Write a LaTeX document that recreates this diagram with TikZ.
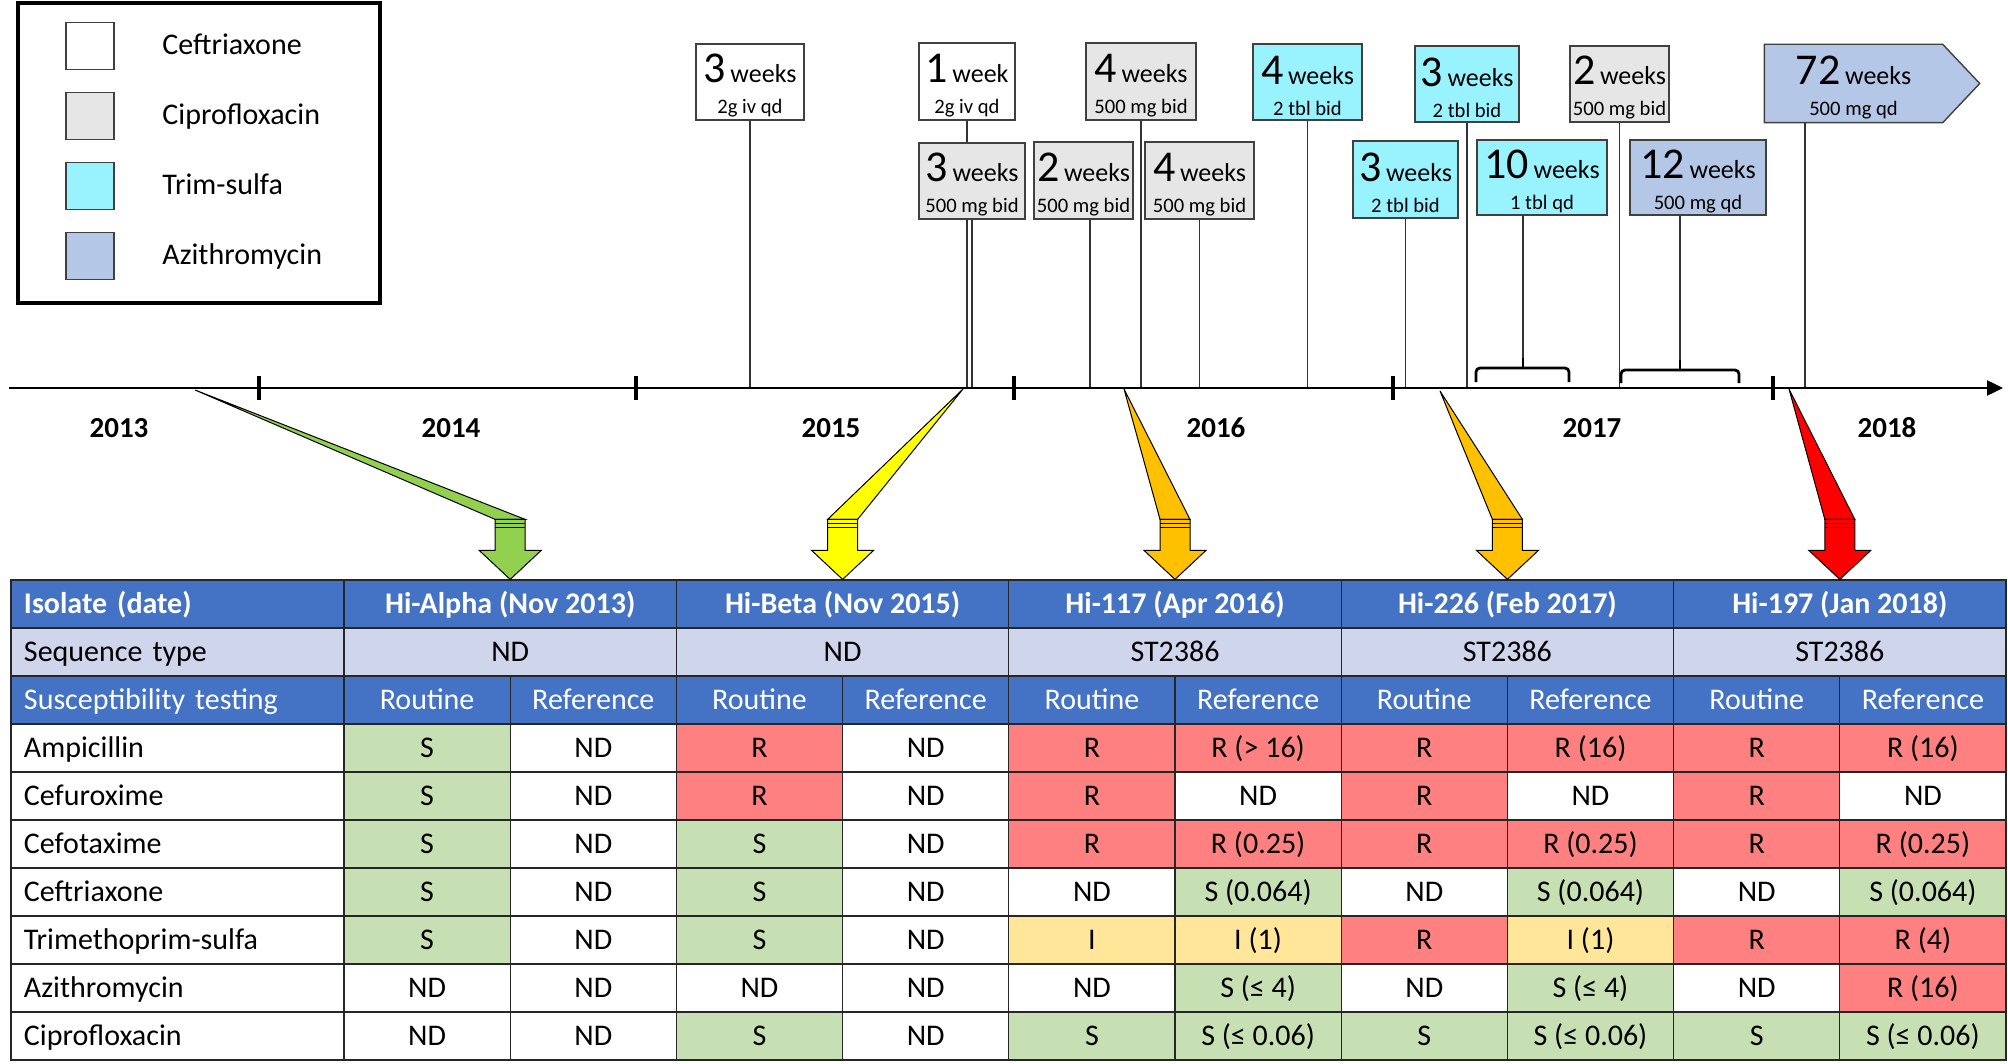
\documentclass[tikz,border=0pt]{standalone}
\usepackage{fontspec}
\setmainfont{Carlito}
\usetikzlibrary{arrows.meta}

\definecolor{hdrblue}{HTML}{4472C4}
\definecolor{seqgray}{HTML}{CFD5EA}
\definecolor{sus}{HTML}{C6E0B4}
\definecolor{res}{HTML}{FF8080}
\definecolor{itm}{HTML}{FFE699}
\colorlet{nd}{white}
\definecolor{ciprogray}{HTML}{E7E6E6}
\definecolor{trimcyan}{HTML}{99F3FF}
\definecolor{azithblue}{HTML}{B4C7E7}
\definecolor{arrgreen}{HTML}{92D050}
\definecolor{arryellow}{HTML}{FFFF00}
\definecolor{arrorange}{HTML}{FFC000}
\definecolor{arrred}{HTML}{FF0000}

\pgfdeclarelayer{background}
\pgfsetlayers{background,main}

% number, unit, dose
\newcommand{\regimen}[3]{\rule{0pt}{18pt}{\fontsize{22}{15.5}\selectfont #1} {\fontsize{13}{15.5}\selectfont #2}\\#3}

\begin{document}
\begin{tikzpicture}
	[x=0.5pt,y=-0.5pt,
	 boxline/.style={draw=black!75,line width=0.7pt},
	 dosebox/.style={boxline,align=center,inner sep=0pt,font=\fontsize{10.3}{15.5}\selectfont},
	 boxsize/.style 2 args={minimum width=#1*0.5pt,minimum height=#2*0.5pt},
	 legbox/.style={draw=black!75,line width=0.7pt,inner sep=0pt,minimum width=24pt,minimum height=23.5pt},
	 legtext/.style={anchor=west,inner sep=0pt,font=\fontsize{15}{18}\selectfont,text height=10pt,text depth=1pt},
	 axisline/.style={line width=1.2pt,-{Triangle[length=8pt,width=7.5pt]}},
	 yeartick/.style={line width=1.6pt},
	 year/.style={font=\fontsize{14.5}{17}\selectfont\bfseries},
	 stem/.style={line width=0.6pt,black!80},
	 bracket/.style={line width=1.4pt,rounded corners=2pt},
	 wedge/.style={draw=black,line width=0.5pt},
	 cellbase/.style={draw=black!85,line width=0.6pt,inner sep=0pt,minimum height=24pt,
	   font=\fontsize{15}{18}\selectfont,text height=10pt,text depth=1pt},
	 dcell/.style={cellbase,minimum width=83.1pt},
	 wcell/.style={cellbase,minimum width=166.2pt},
	 lcell/.style={cellbase,minimum width=166.5pt,text width=153.5pt,align=left,inner xsep=6.5pt}]
\useasboundingbox (0,0) rectangle (2008,1064);

% legend
\draw[line width=2pt] (18,3) rectangle (380,303);
\foreach \clr/\drug [count=\i] in {white/Ceftriaxone,ciprogray/Ciprofloxacin,trimcyan/Trim-sulfa,azithblue/Azithromycin}{
	\node[legbox,fill=\clr] (sw\i) at (90,-24+70*\i) {};
	\node[legtext] (lg\i) at (162,-24+70*\i) {\drug};
}

% time axis
\coordinate (ax0) at (9,388);
\coordinate (ax1) at (2003,388);
\draw[axisline] (ax0) -- (ax1);
\foreach \x in {259,636,1014,1393,1773}
\draw[yeartick] (\x,376) -- (\x,400);
\foreach \yr/\x in {2013/119,2014/451,2015/831,2016/1216,2017/1592,2018/1887}
\node[year] (y\yr) at (\x,428) {\yr};

% treatment courses
\node[dosebox,boxsize={108}{76},fill=white] (tA) at (750,82) {\regimen{3}{weeks}{2g iv qd}};
\node[dosebox,boxsize={96}{77},fill=white] (tB) at (967,81.5) {\regimen{1}{week}{2g iv qd}};
\node[dosebox,boxsize={106}{76},fill=ciprogray] (tC) at (972,181) {\regimen{3}{weeks}{500 mg bid}};
\node[dosebox,boxsize={99}{77},fill=ciprogray] (tD) at (1083.5,180.5) {\regimen{2}{weeks}{500 mg bid}};
\node[dosebox,boxsize={110}{77},fill=ciprogray] (tE) at (1141,81.5) {\regimen{4}{weeks}{500 mg bid}};
\node[dosebox,boxsize={109}{77},fill=ciprogray] (tF) at (1199.5,180.5) {\regimen{4}{weeks}{500 mg bid}};
\node[dosebox,boxsize={109}{76},fill=trimcyan] (tG) at (1307.5,82) {\regimen{4}{weeks}{2 tbl bid}};
\node[dosebox,boxsize={104}{76},fill=trimcyan] (tH) at (1467,84) {\regimen{3}{weeks}{2 tbl bid}};
\node[dosebox,boxsize={105}{77},fill=trimcyan] (tI) at (1405.5,179.5) {\regimen{3}{weeks}{2 tbl bid}};
\node[dosebox,boxsize={130}{75},fill=trimcyan] (tJ) at (1542,177.5) {\regimen{10}{weeks}{1 tbl qd}};
\node[dosebox,boxsize={99}{76},fill=ciprogray] (tK) at (1619.5,84) {\regimen{2}{weeks}{500 mg bid}};
\node[dosebox,boxsize={136}{75},fill=azithblue] (tL) at (1698,177.5) {\regimen{12}{weeks}{500 mg qd}};
\node[dosebox,draw=none,boxsize={177}{77}] (tM) at (1853.5,83.5) {\regimen{72}{weeks}{500 mg qd}};

% brackets for the long courses
\coordinate (bJ) at (1523,358);
\coordinate (bL) at (1680,360);
\draw[bracket] (1476,382) -- (1476,368) -- (1569,368) -- (1569,382);
\draw[bracket] (bJ) -- (1523,368);
\draw[bracket] (1621,383) -- (1621,370) -- (1739,370) -- (1739,383);
\draw[bracket] (bL) -- (1680,370);

\begin{pgfonlayer}{background}
\draw[boxline,fill=azithblue] (tM.north west) -- (tM.north east) -- ([xshift=18.5pt]tM.east)
	-- (tM.south east) -- (tM.south west) -- cycle;
\foreach \n in {tA,tB,tC,tE,tF,tG,tH,tI,tK}
\draw[stem] (\n.south) -- (\n.south |- ax0);
\draw[stem] ([xshift=3.25pt]tD.south) -- ([xshift=3.25pt]tD.south |- ax0);
\draw[stem] ([xshift=-24.25pt]tM.south) -- ([xshift=-24.25pt]tM.south |- ax0);
\draw[stem] (bJ |- tJ.south) -- (bJ);
\draw[stem] (bL |- tL.south) -- (bL);
\end{pgfonlayer}

% table
\node[lcell,fill=hdrblue,text=white,font=\fontsize{15}{18}\selectfont\bfseries] (c0-0) at (177.5,604) {Isolate (date)};
\foreach \iso [count=\k] in {Hi-Alpha (Nov 2013),Hi-Beta (Nov 2015),Hi-117 (Apr 2016),Hi-226 (Feb 2017),Hi-197 (Jan 2018)}
\node[wcell,fill=hdrblue,text=white,font=\fontsize{15}{18}\selectfont\bfseries] (h\k) at (344+332.4*\k-166.2,604) {\iso};
\node[lcell,fill=seqgray] (c1-0) at (177.5,652) {Sequence type};
\foreach \st [count=\k] in {ND,ND,ST2386,ST2386,ST2386}
\node[wcell,fill=seqgray] (s\k) at (344+332.4*\k-166.2,652) {\st};
\node[lcell,fill=hdrblue,text=white] (c2-0) at (177.5,700) {Susceptibility testing};
\foreach \lab [count=\k] in {Routine,Reference,Routine,Reference,Routine,Reference,Routine,Reference,Routine,Reference}
\node[dcell,fill=hdrblue,text=white] (m\k) at (344+166.2*\k-83.1,700) {\lab};

\foreach \drug/\vals [count=\r from 3] in {
	Ampicillin/{sus/S,nd/ND,res/R,nd/ND,res/R,res/R (> 16),res/R,res/R (16),res/R,res/R (16)},
	Cefuroxime/{sus/S,nd/ND,res/R,nd/ND,res/R,nd/ND,res/R,nd/ND,res/R,nd/ND},
	Cefotaxime/{sus/S,nd/ND,sus/S,nd/ND,res/R,res/R (0.25),res/R,res/R (0.25),res/R,res/R (0.25)},
	Ceftriaxone/{sus/S,nd/ND,sus/S,nd/ND,nd/ND,sus/S (0.064),nd/ND,sus/S (0.064),nd/ND,sus/S (0.064)},
	Trimethoprim-sulfa/{sus/S,nd/ND,sus/S,nd/ND,itm/I,itm/I (1),res/R,itm/I (1),res/R,res/R (4)},
	Azithromycin/{nd/ND,nd/ND,nd/ND,nd/ND,nd/ND,sus/S (≤ 4),nd/ND,sus/S (≤ 4),nd/ND,res/R (16)},
	Ciprofloxacin/{nd/ND,nd/ND,sus/S,nd/ND,sus/S,sus/S (≤ 0.06),sus/S,sus/S (≤ 0.06),sus/S,sus/S (≤ 0.06)}}{
	\node[lcell,fill=white] (c\r-0) at (177.5,604+48*\r) {\drug};
	\foreach \clr/\txt [count=\k] in \vals
	\node[dcell,fill=\clr] (c\r-\k) at (344+166.2*\k-83.1,604+48*\r) {\txt};
}

% isolate arrows
\coordinate (p1) at (195,390);
\coordinate (p2) at (963,389);
\coordinate (p3) at (1124,389);
\coordinate (p4) at (1440,391);
\coordinate (p5) at (1789,389);
\foreach \i/\clr in {1/arrgreen,2/arryellow,3/arrorange,4/arrorange,5/arrred}{
	\draw[wedge,fill=\clr] (p\i) -- ([shift={(15,-60)}]h\i.north) -- ([shift={(-15,-60)}]h\i.north) -- cycle;
	\draw[wedge,fill=\clr] (h\i.north) -- ++(-31,-29) -- ++(16,0) -- ++(0,-31) -- ++(30,0) -- ++(0,31) -- ++(16,0) -- cycle;
	\draw[line width=0.9pt] ([shift={(-15,-56)}]h\i.north) -- ++(30,0) ([shift={(-15,-52)}]h\i.north) -- ++(30,0);
}
\end{tikzpicture}
\end{document}
